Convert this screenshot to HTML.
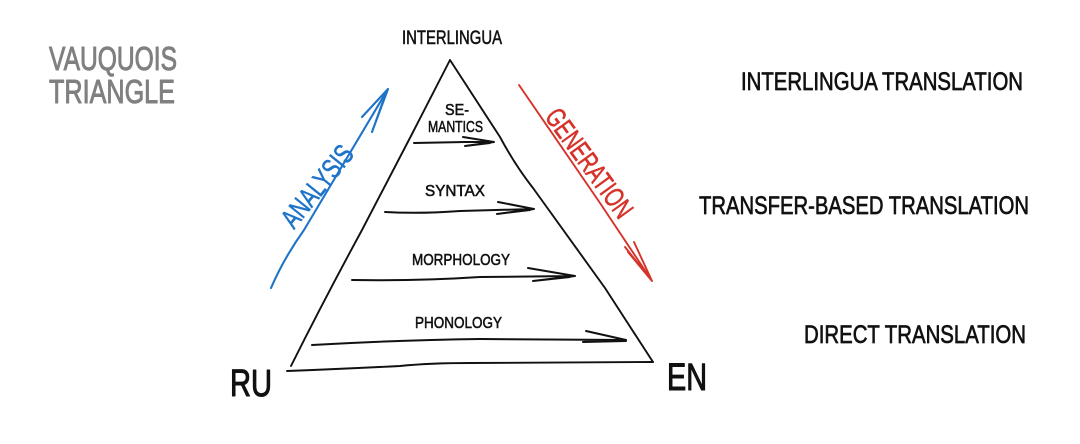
<!DOCTYPE html>
<html>
<head>
<meta charset="utf-8">
<style>
html,body{margin:0;padding:0;background:#fff;width:1080px;height:444px;overflow:hidden}
svg{display:block}
text{font-family:"Liberation Sans",sans-serif;fill:#111;stroke:#111;stroke-width:.55;stroke-linejoin:round}
path{fill:none;stroke-linecap:round;stroke-linejoin:round}
</style>
</head>
<body>
<svg width="1080" height="444" viewBox="0 0 1080 444" xmlns="http://www.w3.org/2000/svg">
<rect width="1080" height="444" fill="#fff"/>

<!-- triangle -->
<g stroke="#111" stroke-width="1.9">
<path d="M291 366 Q325 298 362 230 L412 134 L450 60 L500 137 Q515 165 533 188 L605 288 L640 342 L653 362"/>
<path d="M287 371 Q340 369 400 366 Q430 363 470 363 L653 362"/>
</g>

<!-- inner arrows -->
<g stroke="#111" stroke-width="2">
<path d="M414 143 L465 142 L494 142 M463 137 L494 142 L465 146 L490 143"/>
<path d="M385 212 Q420 214 460 211 L534 209 M498 202 L534 209 L497 214 L530 210"/>
<path d="M352 280 Q420 281 480 277 L575 276 M528 268 L575 276 L533 281 L570 277"/>
<path d="M312 345 Q400 340 480 339 L626 340 M586 331 L626 340 L583 342 L626 341"/>
</g>

<!-- blue -->
<path stroke="#1f74c8" stroke-width="2.1" d="M271 288 Q284 258 304 230 L388 89 M362 117 L388 89 L372 132 L386 93"/>
<!-- red -->
<path stroke="#d5332a" stroke-width="1.9" d="M519 85 L600 203 L652 281 M625 247 L652 281 L634 242 M628 252 L652 281"/>

<!-- labels -->
<text x="402" y="44" font-size="19" textLength="100" lengthAdjust="spacingAndGlyphs">INTERLINGUA</text>
<g font-size="16">
<text x="445" y="115" textLength="24" lengthAdjust="spacingAndGlyphs">SE-</text>
<text x="428" y="132" textLength="55" lengthAdjust="spacingAndGlyphs">MANTICS</text>
<text x="425" y="196" textLength="60" lengthAdjust="spacingAndGlyphs">SYNTAX</text>
<text x="412" y="265" textLength="98" lengthAdjust="spacingAndGlyphs">MORPHOLOGY</text>
<text x="415" y="328" textLength="87" lengthAdjust="spacingAndGlyphs">PHONOLOGY</text>
</g>
<g font-size="25">
<text x="741" y="90" textLength="282" lengthAdjust="spacingAndGlyphs" style="stroke-width:.7">INTERLINGUA TRANSLATION</text>
<text x="699" y="214" textLength="330" lengthAdjust="spacingAndGlyphs" style="stroke-width:.7">TRANSFER-BASED TRANSLATION</text>
<text x="804" y="343" textLength="222" lengthAdjust="spacingAndGlyphs" style="stroke-width:.7">DIRECT TRANSLATION</text>
</g>
<g font-size="33">
<text x="49" y="70" textLength="128" lengthAdjust="spacingAndGlyphs" style="fill:#808080;stroke:#808080;stroke-width:1">VAUQUOIS</text>
<text x="49" y="103" textLength="126" lengthAdjust="spacingAndGlyphs" style="fill:#808080;stroke:#808080;stroke-width:1">TRIANGLE</text>
</g>
<g font-size="38">
<text x="230" y="396" textLength="42" lengthAdjust="spacingAndGlyphs" style="stroke-width:1.1">RU</text>
<text x="667" y="390" textLength="40" lengthAdjust="spacingAndGlyphs" style="stroke-width:1.1">EN</text>
</g>
<text transform="translate(294 230) rotate(-51)" font-size="28" textLength="97" lengthAdjust="spacingAndGlyphs" style="fill:#1f74c8;stroke:#1f74c8;stroke-width:.6">ANALYSIS</text>
<text transform="translate(544 117) rotate(54)" font-size="28" textLength="128" lengthAdjust="spacingAndGlyphs" style="fill:#d5332a;stroke:#d5332a;stroke-width:.6">GENERATION</text>
</svg>
</body>
</html>
